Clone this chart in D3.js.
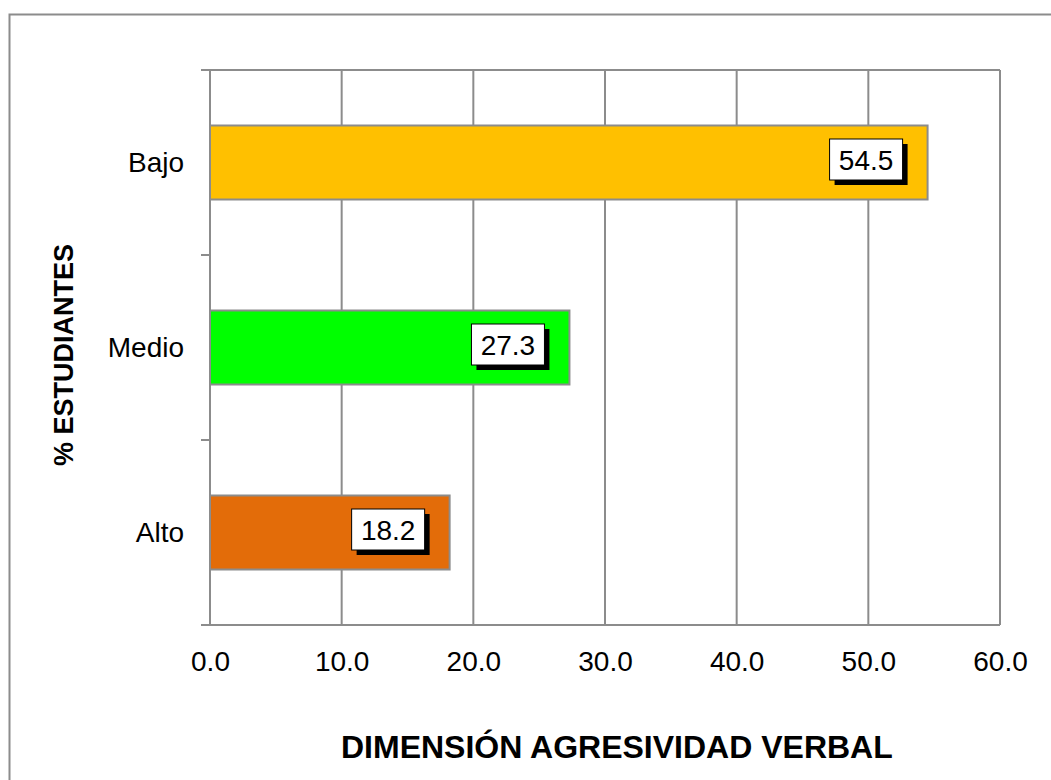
<!DOCTYPE html>
<html>
<head>
<meta charset="utf-8">
<script src="https://cdn.jsdelivr.net/npm/d3@7"></script>
<style>
  body { margin: 0; background: #fff; }
  svg { display: block; font-family: Arial, "Liberation Sans", sans-serif; }
</style>
</head>
<body>
<div id="chart"></div>
<script>
// chart data
var categories = ['Bajo', 'Medio', 'Alto'];
var values = [54.5, 27.3, 18.2];
var barColors = ['#FFC000', '#00FF00', '#E36C09'];
var xTicks = [0, 10, 20, 30, 40, 50, 60];

var W = 1051, H = 780;
var margin = { top: 70, left: 210 },
    width = 1000 - margin.left,
    height = 625 - margin.top;

var svg = d3.select('#chart').append('svg')
    .attr('width', W)
    .attr('height', H);

// outer chart border (runs off the right and bottom)
svg.append('rect')
   .attr('x', 9.5).attr('y', 14.5)
   .attr('width', W + 20).attr('height', H + 20)
   .attr('fill', 'none')
   .attr('stroke', '#8c8c8c')
   .attr('stroke-width', 2);

var g = svg.append('g')
    .attr('transform', 'translate(' + margin.left + ',' + margin.top + ')');

var x = d3.scaleLinear().domain([0, 60]).range([0, width]);
var y = d3.scaleBand().domain(categories).range([0, height]).paddingInner(0.6).paddingOuter(0.3);

// vertical gridlines
g.selectAll('.grid')
 .data(xTicks)
 .enter().append('line')
 .attr('x1', function(d) { return x(d); })
 .attr('x2', function(d) { return x(d); })
 .attr('y1', 0).attr('y2', height)
 .attr('stroke', '#8c8c8c')
 .attr('stroke-width', 2);

// top frame line
g.append('line')
 .attr('x1', -9).attr('x2', width)
 .attr('y1', 0).attr('y2', 0)
 .attr('stroke', '#8c8c8c').attr('stroke-width', 2);

// bars
g.selectAll('.bar')
 .data(values)
 .enter().append('rect')
 .attr('x', x(0))
 .attr('y', function(d, i) { return y(categories[i]); })
 .attr('width', function(d) { return x(d) - x(0); })
 .attr('height', y.bandwidth())
 .attr('fill', function(d, i) { return barColors[i]; })
 .attr('stroke', '#8c8c8c')
 .attr('stroke-width', 2);

// x axis
var xAxis = g.append('g')
 .attr('transform', 'translate(0,' + height + ')')
 .call(d3.axisBottom(x).tickValues(xTicks).tickFormat(d3.format('.1f')).tickSize(0).tickPadding(26));
xAxis.select('.domain').attr('stroke', '#8c8c8c').attr('stroke-width', 2).attr('d', 'M-9,0H' + width);
xAxis.selectAll('text').attr('font-size', 28).attr('fill', '#000')
     .style('font-family', 'Arial, "Liberation Sans", sans-serif');

// y axis: ticks at category boundaries
var bounds = d3.range(categories.length + 1).map(function(i) { return i * height / categories.length; });
g.selectAll('.ytick')
 .data(bounds)
 .enter().append('line')
 .attr('x1', -9).attr('x2', 0)
 .attr('y1', function(d) { return d; })
 .attr('y2', function(d) { return d; })
 .attr('stroke', '#8c8c8c').attr('stroke-width', 2);

g.selectAll('.ylab')
 .data(categories)
 .enter().append('text')
 .attr('x', -26)
 .attr('y', function(d) { return y(d) + y.bandwidth() / 2; })
 .attr('dy', '0.33em')
 .attr('text-anchor', 'end')
 .attr('font-size', 28)
 .text(function(d) { return d; });

// data labels with drop shadow
var boxW = 73, boxH = 41;
var labels = g.selectAll('.dlabel')
 .data(values)
 .enter().append('g')
 .attr('transform', function(d, i) {
   return 'translate(' + (x(d) - 25 - boxW) + ',' + (y(categories[i]) + y.bandwidth() / 2 - boxH / 2 - 3) + ')';
 });
labels.append('rect')
 .attr('x', 5).attr('y', 5)
 .attr('width', boxW).attr('height', boxH)
 .attr('fill', '#000');
labels.append('rect')
 .attr('width', boxW).attr('height', boxH)
 .attr('fill', '#fff')
 .attr('stroke', '#000')
 .attr('stroke-width', 1);
labels.append('text')
 .attr('x', boxW / 2)
 .attr('y', boxH / 2)
 .attr('dy', '0.36em')
 .attr('text-anchor', 'middle')
 .attr('font-size', 28)
 .text(function(d) { return d3.format('.1f')(d); });

// axis titles
svg.append('text')
 .attr('transform', 'translate(73,355) rotate(-90)')
 .attr('text-anchor', 'middle')
 .attr('font-size', 27)
 .attr('font-weight', 'bold')
 .text('% ESTUDIANTES');

svg.append('text')
 .attr('x', 341)
 .attr('y', 758)
 .attr('text-anchor', 'start')
 .attr('font-size', 32)
 .attr('font-weight', 'bold')
 .text('DIMENSIÓN AGRESIVIDAD VERBAL');
</script>
</body>
</html>
